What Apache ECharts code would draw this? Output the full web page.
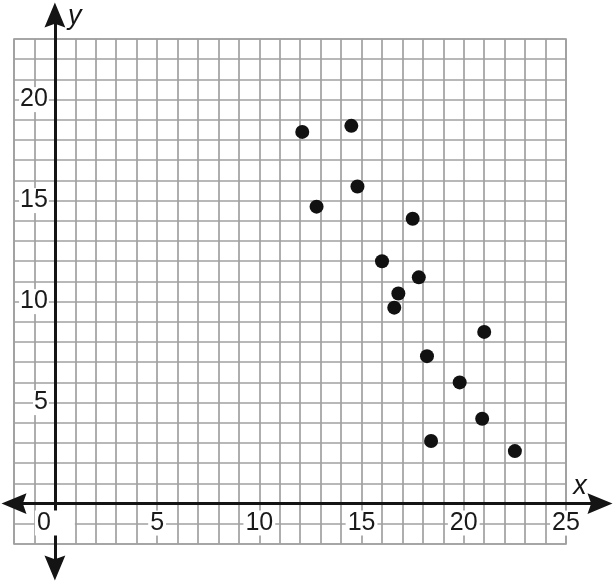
<!DOCTYPE html>
<html>
<head>
<meta charset="utf-8">
<script src="https://cdn.jsdelivr.net/npm/echarts@6/dist/echarts.min.js"></script>
<style>html,body{margin:0;padding:0;background:#fff;}#c{width:613px;height:581px;}</style>
</head>
<body>
<div id="c"></div>
<script>
// Data
const xValues = [12.1, 14.5, 14.8, 12.8, 17.5, 16.0, 17.8, 16.8, 16.6, 21.0, 18.2, 19.8, 20.9, 18.4, 22.5];
const yValues = [18.4, 18.7, 15.7, 14.7, 14.1, 12.0, 11.2, 10.4, 9.7, 8.5, 7.3, 6.0, 4.2, 3.1, 2.6];
const xTickLabels = [0, 5, 10, 15, 20, 25];
const yTickLabels = [5, 10, 15, 20];
const paperX = [-2, 25];
const paperY = [-2, 23];

const W = 613, H = 581;
const g0 = {left: 14, right: 47, top: 39, bottom: 37};
const g1 = {left: 14, right: 13, top: 15, bottom: 13};
const sx = (W - g0.left - g0.right) / (paperX[1] - paperX[0]);
const sy = (H - g0.top - g0.bottom) / (paperY[1] - paperY[0]);
const x1min = paperX[0] - (g0.left - g1.left) / sx;
const x1max = paperX[1] + (g0.right - g1.right) / sx;
const y1min = paperY[0] - (g0.bottom - g1.bottom) / sy;
const y1max = paperY[1] + (g0.top - g1.top) / sy;
// pixel position of the value 0 on each axis, used to shift the axes onto the origin
const zeroX = g0.left + (0 - paperX[0]) * sx;
const zeroY = g0.top + (paperY[1] - 0) * sy;
const xOffset = zeroY - (H - g1.bottom);
const yOffset = g1.left - zeroX;

const pts = xValues.map((x, i) => [x, yValues[i]]);
const font = 'Liberation Sans';
const gridLine = {show: true, lineStyle: {color: '#a0a0a0', width: 1.7}};
const arrowPath = 'path://M10,0L20,24L10,20.5L0,24Z';
const axLine = {show: true, onZero: false, lineStyle: {color: '#141414', width: 3}, symbol: [arrowPath, arrowPath], symbolSize: [23, 25]};

const chart = echarts.init(document.getElementById('c'), null, {renderer: 'canvas'});
chart.setOption({
  animation: false,
  backgroundColor: '#fff',
  grid: [
    Object.assign({show: true, borderColor: '#a0a0a0', borderWidth: 1.7, containLabel: false, outerBoundsMode: 'none'}, g0),
    Object.assign({show: false, containLabel: false, outerBoundsMode: 'none'}, g1)
  ],
  xAxis: [
    {gridIndex: 0, type: 'value', min: paperX[0], max: paperX[1], interval: 1,
     axisLine: {show: false}, axisTick: {show: false}, axisLabel: {show: false}, splitLine: gridLine},
    {gridIndex: 1, type: 'value', position: 'bottom', offset: xOffset, min: x1min, max: x1max, z: 5,
     axisLine: axLine, axisTick: {show: false}, splitLine: {show: false},
     name: 'x', nameLocation: 'end', nameGap: -20,
     nameTextStyle: {fontFamily: font, fontStyle: 'italic', fontSize: 27, color: '#141414', align: 'center', verticalAlign: 'bottom', padding: [0, 0, 4, 0]},
     axisLabel: {customValues: xTickLabels, margin: 7, fontFamily: font, fontSize: 25, color: '#1a1a1a',
       backgroundColor: '#fff', padding: [0, 2],
       formatter: v => v === 0 ? '{z|0}{s|\u00a0}' : String(v),
       rich: {z: {fontFamily: font, fontSize: 25, color: '#1a1a1a', backgroundColor: '#fff'}, s: {width: 22, fontSize: 25}}}}
  ],
  yAxis: [
    {gridIndex: 0, type: 'value', min: paperY[0], max: paperY[1], interval: 1,
     axisLine: {show: false}, axisTick: {show: false}, axisLabel: {show: false}, splitLine: gridLine},
    {gridIndex: 1, type: 'value', position: 'left', offset: yOffset, min: y1min, max: y1max, z: 5,
     axisLine: axLine, axisTick: {show: false}, splitLine: {show: false},
     name: 'y', nameLocation: 'end', nameGap: -1,
     nameTextStyle: {fontFamily: font, fontStyle: 'italic', fontSize: 27, color: '#141414', align: 'left', verticalAlign: 'middle', padding: [0, 0, 0, 13]},
     axisLabel: {customValues: yTickLabels, margin: 6, fontFamily: font, fontSize: 25, color: '#1a1a1a',
       backgroundColor: '#fff', padding: [0, 1]}}
  ],
  series: [{
    type: 'scatter', xAxisIndex: 0, yAxisIndex: 0, data: pts,
    symbolSize: 14, itemStyle: {color: '#111', opacity: 1}, z: 6
  }]
});
</script>
</body>
</html>
